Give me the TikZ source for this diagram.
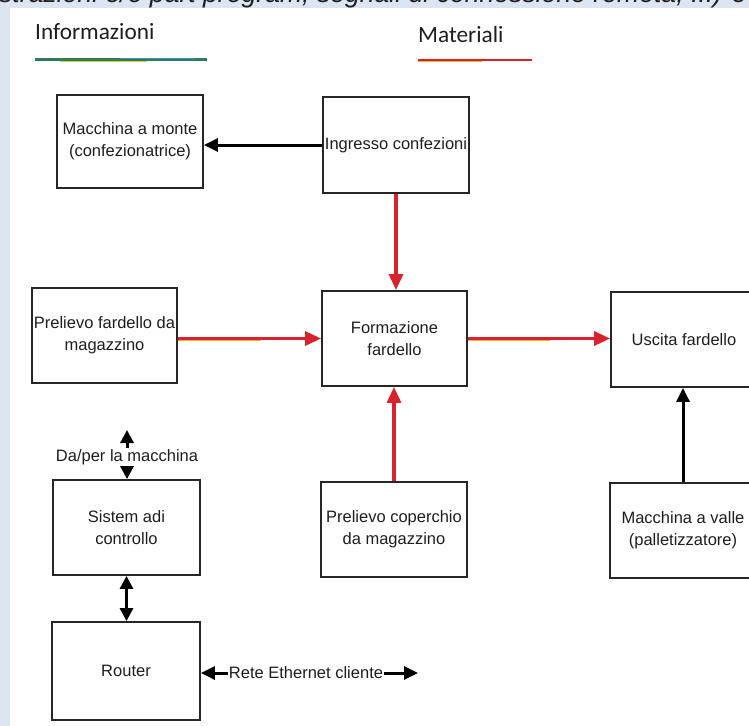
\documentclass[tikz,border=0pt]{standalone}
\usepackage{fontspec}
\setmainfont{Liberation Sans}
\newfontfamily\legendfont{Carlito}
\usetikzlibrary{arrows.meta}
\definecolor{bgblue}{HTML}{DCE6F2}
\definecolor{matred}{HTML}{D8232E}
\definecolor{matyel}{HTML}{E9B422}
\definecolor{infgreen}{HTML}{2E7A5E}
\definecolor{infblue}{HTML}{3B8ED0}
\definecolor{infyel}{HTML}{D9D42A}
\definecolor{boxline}{HTML}{262626}
\definecolor{txt}{HTML}{1E1E1E}
\tikzset{
  blk/.style={draw=boxline, line width=1.8bp, fill=white, inner sep=0pt,
    align=center, text=txt, font=\fontsize{16.5bp}{22bp}\selectfont},
  infarrow/.style={draw=black, line width=3bp, -{Triangle[length=14bp,width=13bp]}},
  bothinf/.style={draw=black, line width=3bp, {Triangle[length=13bp,width=13bp]}-{Triangle[length=13bp,width=13bp]}},
  matarrow/.style={draw=matred, line width=3.2bp, -{Triangle[length=16bp,width=14bp]}},
  matunder/.style={draw=matyel, line width=0.8bp},
  lbl/.style={text=txt, font=\fontsize{16.5bp}{22bp}\selectfont, inner sep=1pt},
  legendtxt/.style={text=txt, font=\legendfont\fontsize{23.3bp}{28bp}\selectfont, inner sep=0pt}
}
\begin{document}
\begin{tikzpicture}[x=1bp,y=-1bp]
\useasboundingbox (0,0) rectangle (749,726);
\fill[bgblue] (0,0) rectangle (749,726);
\node[anchor=base west, inner sep=0pt, text=txt, font=\itshape\fontsize{26.6bp}{30bp}\selectfont] (toptext) at (-1,3) {strazioni e/o part program, segnali di connessione remota, ...) e};
\fill[white] (10,8) rectangle (749,726);

% legend
\node[legendtxt, anchor=base west] (linf) at (35,40) {Informazioni};
\node[legendtxt, anchor=base west] (lmat) at (418,43) {Materiali};
\coordinate (infA) at (35,59.5);
\coordinate (infB) at (207,59.5);
\draw[infgreen, line width=3bp] (infA) -- (infB);
\draw[infyel, line width=0.7bp] ([xshift=25bp,yshift=-1.4bp]infA) -- ([xshift=-60bp,yshift=-1.4bp]infB);
\draw[infblue, line width=0.7bp] ([xshift=85bp,yshift=1.3bp]infA) -- ([xshift=-12bp,yshift=1.3bp]infB);
\coordinate (matA) at (418,60);
\coordinate (matB) at (532,60);
\draw[matred, line width=2.8bp] (matA) -- (matB);
\draw[matyel, line width=0.8bp] ([yshift=-1.6bp]matA) -- ([xshift=-50bp,yshift=-1.6bp]matB);

% boxes
\node[blk, minimum width=146bp, minimum height=93bp] (mon) at (130,141.5) {Macchina a monte\\(confezionatrice)};
\node[blk, minimum width=146bp, minimum height=96bp] (ing) at (396,145) {Ingresso confezioni};
\node[blk, minimum width=145bp, minimum height=95bp] (pf) at (104.5,335.5) {Prelievo fardello da\\magazzino};
\node[blk, minimum width=145bp, minimum height=95bp] (form) at (394.5,338.5) {Formazione\\fardello};
\node[blk, minimum width=146bp, minimum height=95bp] (usc) at (684,339.5) {Uscita fardello};
\node[blk, minimum width=147bp, minimum height=95bp] (sist) at (126.5,527.5) {Sistem adi\\controllo};
\node[blk, minimum width=148bp, minimum height=98bp] (rout) at (126,671) {Router};
\node[blk, minimum width=146bp, minimum height=95bp] (cop) at (394,529.5) {Prelievo coperchio\\da magazzino};
\node[blk, minimum width=146bp, minimum height=95bp] (val) at (683,530.5) {Macchina a valle\\(palletizzatore)};

% information connectors
\draw[infarrow] (ing.west) -- (ing.west -| mon.east);
\draw[infarrow] (val.north) -- (val.north |- usc.south);
\coordinate (dptop) at (127,430);
\draw[bothinf] (dptop) -- (dptop |- sist.north);
\node[lbl, fill=white] (dp) at (127,457) {Da/per la macchina};
\draw[bothinf] (sist.south) -- (sist.south |- rout.north);
\node[lbl, fill=white] (eth) at (306,673) {Rete Ethernet cliente};
\coordinate (ethR) at (418,673);
\draw[infarrow] (eth.west) -- (eth.west -| rout.east);
\draw[infarrow] (eth.east) -- (ethR);

% material connectors
\draw[matarrow] (ing.south) -- (ing.south |- form.north);
\draw[matarrow] (cop.north) -- (cop.north |- form.south);
\draw[matarrow] (pf.east |- form.west) -- (form.west);
\draw[matunder] ([yshift=-1.8bp]pf.east |- form.west) -- ([yshift=-1.8bp,xshift=-60bp]form.west);
\draw[matarrow] (form.east) -- (form.east -| usc.west);
\draw[matunder] ([yshift=-1.8bp]form.east) -- ([yshift=-1.8bp,xshift=-60bp]form.east -| usc.west);
\end{tikzpicture}
\end{document}
